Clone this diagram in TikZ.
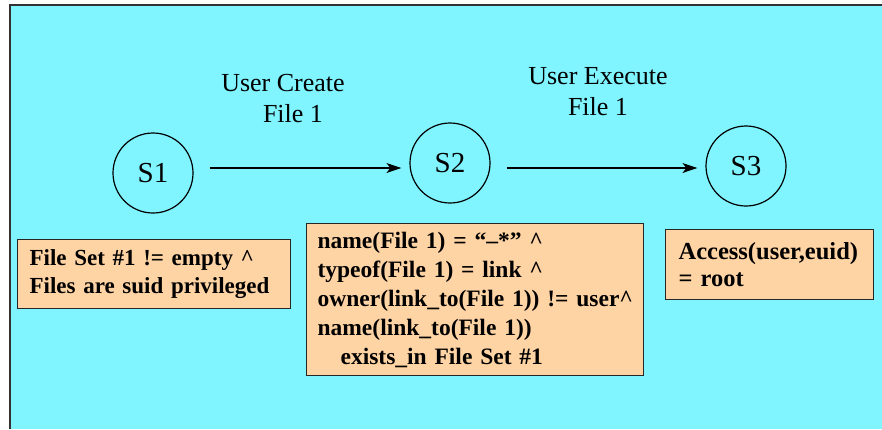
\documentclass[tikz,border=0pt]{standalone}
\usepackage{fontspec}
\setmainfont{Liberation Serif}
\usetikzlibrary{arrows.meta}
\definecolor{panelcyan}{RGB}{128,244,255}
\definecolor{condpeach}{RGB}{255,212,164}
\definecolor{framegray}{RGB}{50,50,50}
\tikzset{
  state/.style={circle, draw=black, line width=1.2pt, minimum size=80pt, inner sep=0pt,
                font=\fontsize{29}{29}\selectfont},
  cond/.style={draw=black!85, line width=1.2pt, fill=condpeach, anchor=north west,
               align=left, inner ysep=0pt, font=\bfseries},
  label/.style={align=center, font=\fontsize{26}{31}\selectfont},
  trans/.style={-{Stealth[length=15pt,width=10pt,inset=4pt]}, line width=1.2pt},
}
\begin{document}
\begin{tikzpicture}[x=1pt, y=-1pt]
  \useasboundingbox (0,0) rectangle (882,429);
  % panel
  \fill[panelcyan] (10,5) rectangle (882,429);
  \draw[framegray, line width=2pt] (10,429) -- (10,5) -- (882,5);

  % states
  \node[state] (s1) at (153,173) {S1};
  \node[state] (s2) at (450,163) {S2};
  \node[state] (s3) at (746,166) {S3};

  % transitions
  \coordinate (row) at (0,168);
  \draw[trans, shorten <=16pt, shorten >=8pt] (s1.east |- row) -- (s2.west |- row);
  \draw[trans, shorten <=16pt, shorten >=8pt] (s2.east |- row) -- (s3.west |- row);

  \node[label] (l1) at (283,99) {User Create\\\hspace*{20pt}File 1};
  \node[label] (l2) at (598,92) {User Execute\\File 1};

  % conditions
  \node[cond, minimum width=273pt, minimum height=69pt, inner xsep=12pt,
        text width=249pt, font=\bfseries\fontsize{23}{28}\selectfont] (c1) at (17,239)
    {File Set \#1 != empty \^{}\\Files are suid privileged};
  \node[cond, minimum width=337pt, minimum height=152pt, inner xsep=11pt,
        text width=315pt, font=\bfseries\fontsize{23.5}{29}\selectfont] (c2) at (306,223)
    {\mbox{name(File 1) = “–*” \^{}}\\
     \mbox{typeof(File 1) = link \^{}}\\
     \mbox{owner(link\_to(File 1)) != user\^{}}\\
     \mbox{name(link\_to(File 1))}\\
     \hspace*{23pt}\mbox{exists\_in File Set \#1}};
  \node[cond, minimum width=208pt, minimum height=70pt, inner xsep=13pt,
        text width=182pt, font=\bfseries\fontsize{24.5}{27}\selectfont] (c3) at (665,229)
    {\raisebox{-3pt}{\mbox{Access(user,euid)}}\\\raisebox{-3pt}{= root}};
\end{tikzpicture}
\end{document}
